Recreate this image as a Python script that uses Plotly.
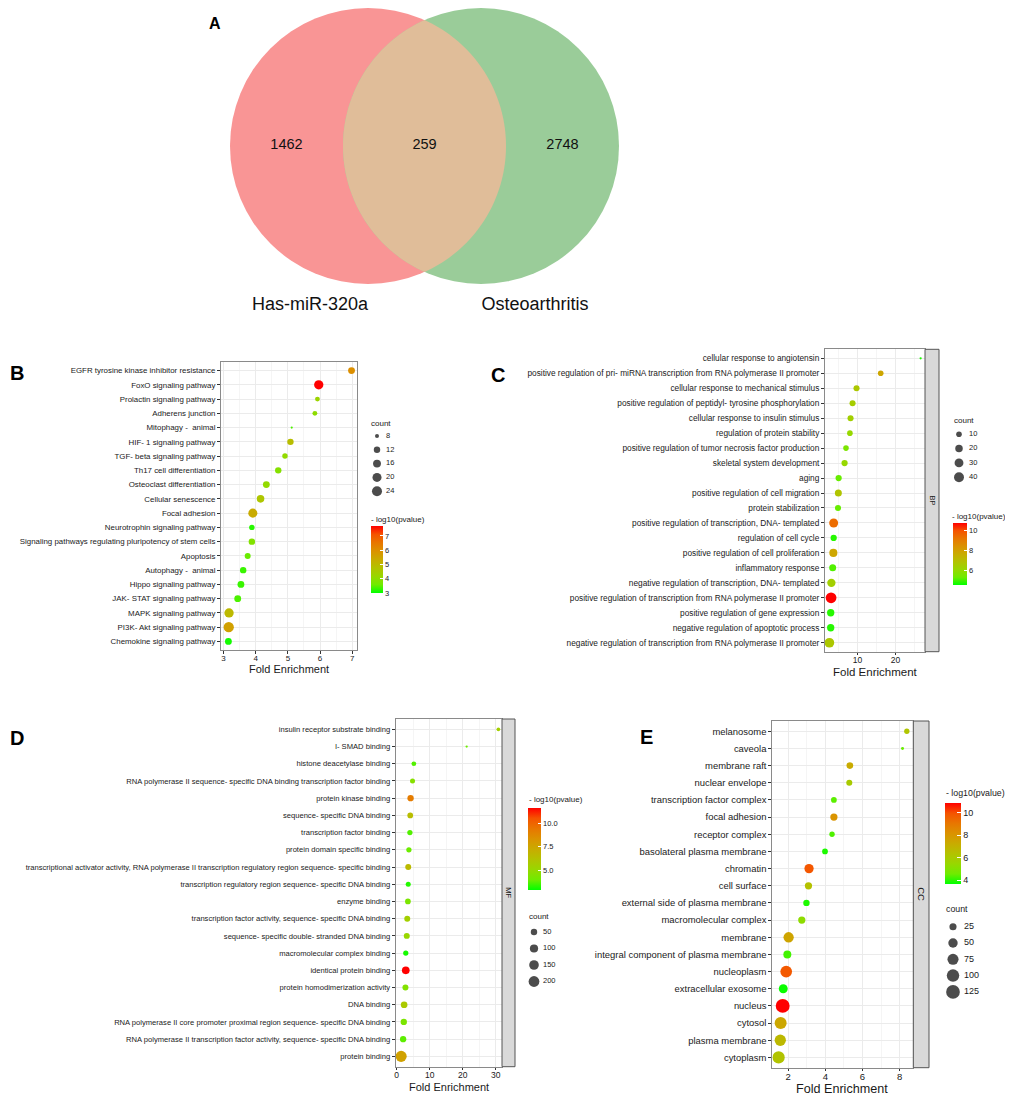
import numpy as np
import plotly.graph_objects as go

W, H = 1013, 1095          # browser window
OFF = 8                    # default body margin of the page
FW, FH = W - OFF, H - OFF  # figure size so that it ends at the window edge
FONT = "Liberation Sans, Arial, Helvetica, sans-serif"
TXT = "#1a1a1a"
GRID = "#EBEBEB"
GRID_MINOR = "#F5F5F5"
BORDER = "#8a8a8a"

# ---------------- data ----------------
venn_names = ["Has-miR-320a", "Osteoarthritis"]
venn_counts = [1462, 259, 2748]          # left only, shared, right only

kegg_terms = ["EGFR tyrosine kinase inhibitor resistance", "FoxO signaling pathway",
              "Prolactin signaling pathway", "Adherens junction", "Mitophagy -  animal",
              "HIF- 1 signaling pathway", "TGF- beta signaling pathway", "Th17 cell differentiation",
              "Osteoclast differentiation", "Cellular senescence", "Focal adhesion",
              "Neurotrophin signaling pathway", "Signaling pathways regulating pluripotency of stem cells",
              "Apoptosis", "Autophagy -  animal", "Hippo signaling pathway", "JAK- STAT signaling pathway",
              "MAPK signaling pathway", "PI3K- Akt signaling pathway", "Chemokine signaling pathway"]
kegg_fold = [6.98, 5.96, 5.92, 5.84, 5.12, 5.08, 4.91, 4.70, 4.33, 4.15,
             3.91, 3.88, 3.88, 3.75, 3.61, 3.54, 3.44, 3.17, 3.16, 3.15]
kegg_count = [13, 21, 9, 9, 7, 12, 10, 12, 13, 15, 20, 10, 12, 11, 12, 13, 13, 21, 25, 13]
kegg_logp = [6.0, 7.7, 4.27, 4.03, 3.4, 4.9, 4.1, 3.9, 4.1, 4.65,
             5.35, 3.2, 3.85, 3.55, 3.3, 3.3, 3.4, 5.0, 5.6, 3.1]

bp_terms = ["cellular response to angiotensin",
            "positive regulation of pri- miRNA transcription from RNA polymerase II promoter",
            "cellular response to mechanical stimulus",
            "positive regulation of peptidyl- tyrosine phosphorylation",
            "cellular response to insulin stimulus", "regulation of protein stability",
            "positive regulation of tumor necrosis factor production", "skeletal system development",
            "aging", "positive regulation of cell migration", "protein stabilization",
            "positive regulation of transcription, DNA- templated", "regulation of cell cycle",
            "positive regulation of cell proliferation", "inflammatory response",
            "negative regulation of transcription, DNA- templated",
            "positive regulation of transcription from RNA polymerase II promoter",
            "positive regulation of gene expression", "negative regulation of apoptotic process",
            "negative regulation of transcription from RNA polymerase II promoter"]
bp_fold = [26.6, 16.1, 9.74, 8.7, 8.17, 8.0, 6.97, 6.6, 5.04, 4.96,
           4.87, 3.73, 3.73, 3.65, 3.47, 3.13, 3.05, 2.95, 2.95, 2.61]
bp_count = [3, 10, 12, 12, 12, 10, 10, 13, 13, 17, 12, 31, 13, 24, 17, 26, 48, 19, 19, 37]
bp_logp = [4.8, 7.8, 6.7, 6.5, 6.4, 6.1, 5.6, 6.1, 5.3, 6.8,
           5.3, 9.4, 4.85, 7.8, 5.15, 6.4, 10.7, 4.85, 4.85, 6.7]

mf_terms = ["insulin receptor substrate binding", "I- SMAD binding", "histone deacetylase binding",
            "RNA polymerase II sequence- specific DNA binding transcription factor binding",
            "protein kinase binding", "sequence- specific DNA binding", "transcription factor binding",
            "protein domain specific binding",
            "transcriptional activator activity, RNA polymerase II transcription regulatory region sequence- specific binding",
            "transcription regulatory region sequence- specific DNA binding", "enzyme binding",
            "transcription factor activity, sequence- specific DNA binding",
            "sequence- specific double- stranded DNA binding", "macromolecular complex binding",
            "identical protein binding", "protein homodimerization activity", "DNA binding",
            "RNA polymerase II core promoter proximal region sequence- specific DNA binding",
            "RNA polymerase II transcription factor activity, sequence- specific DNA binding",
            "protein binding"]
mf_fold = [30.8, 21.2, 5.2, 4.8, 4.2, 4.1, 4.0, 3.7, 3.5, 3.5,
           3.4, 3.2, 3.05, 2.75, 2.75, 2.65, 2.25, 2.15, 1.95, 1.35]
mf_count = [8, 3, 19, 23, 47, 34, 27, 27, 40, 23, 34, 40, 40, 27, 83, 40, 56, 47, 47, 215]
mf_logp = [5.5, 3.95, 3.7, 4.6, 9.2, 6.4, 3.7, 3.95, 6.55, 3.25,
           4.3, 5.5, 5.1, 3.1, 11.6, 4.5, 5.8, 4.3, 3.8, 7.7]

cc_terms = ["melanosome", "caveola", "membrane raft", "nuclear envelope", "transcription factor complex",
            "focal adhesion", "receptor complex", "basolateral plasma membrane", "chromatin", "cell surface",
            "external side of plasma membrane", "macromolecular complex", "membrane",
            "integral component of plasma membrane", "nucleoplasm", "extracellular exosome", "nucleus",
            "cytosol", "plasma membrane", "cytoplasm"]
cc_fold = [8.39, 8.16, 5.32, 5.29, 4.46, 4.46, 4.36, 3.98, 3.12, 3.09,
           2.98, 2.73, 2.02, 1.95, 1.89, 1.73, 1.70, 1.59, 1.57, 1.48]
cc_count = [13, 7, 21, 17, 15, 26, 13, 15, 48, 26, 19, 26, 62, 33, 85, 44, 130, 91, 78, 96]
cc_logp = [6.25, 4.5, 7.25, 6.0, 4.4, 8.1, 4.3, 3.9, 9.85, 6.4,
           3.9, 5.25, 7.5, 4.2, 9.8, 3.75, 10.85, 7.4, 6.75, 6.3]

# ggplot-like green -> red gradient (Lab interpolation, sampled)
COLORSCALE = [[0.0, "#00FF00"], [0.125, "#70EB00"], [0.25, "#98D700"], [0.375, "#B3C200"],
              [0.5, "#C9AB00"], [0.625, "#DB9200"], [0.75, "#E87600"], [0.875, "#F55300"],
              [1.0, "#FF0000"]]


def dot_size(c, cmin, cmax, k):
    t = np.clip((np.asarray(c, float) - cmin) / (cmax - cmin), 0, 1)
    return k * (1.33 + 5 * np.sqrt(t))


def PX(x):   # window pixel -> paper x
    return (x - OFF) / FW


def PY(y):   # window pixel -> paper y
    return 1 - (y - OFF) / FH


panels = [
    dict(terms=kegg_terms, fold=kegg_fold, count=kegg_count, logp=kegg_logp,
         box=(221, 362, 357, 650), xr=(2.92, 7.15), dtick=1, minor=0.5, k=1.62,
         yfont=7.9, xfont=8, xstand=-2, title_font=11, title_xy=(289, 668.5), strip=None,
         crange=(3.0, 7.7), cticks=[3, 4, 5, 6, 7], ctext=None, cbar=(371, 526, 383, 593),
         cfont=7.5, ctfont=8, ctitle_xy=(369, 519), leg_vals=[8, 12, 16, 20, 24], leg_title_xy=(369, 423),
         leg_y0=436, leg_dy=13.8, leg_xdot=377, leg_xlab=386, leg_font=7.5, letter=("B", 17, 373)),
    dict(terms=bp_terms, fold=bp_fold, count=bp_count, logp=bp_logp,
         box=(825, 349.3, 925, 651.7), xr=(1.45, 27.75), dtick=10, minor=5, k=1.7,
         yfont=8.3, xfont=8.5, xstand=-2, title_font=11.5, title_xy=(875, 672), strip=("BP", 925, 939, 7.5),
         crange=(4.6, 10.7), cticks=[6, 8, 10], ctext=None, cbar=(953, 523, 967, 585),
         cfont=7.5, ctfont=8, ctitle_xy=(950, 516), leg_vals=[10, 20, 30, 40], leg_title_xy=(952, 420),
         leg_y0=434.3, leg_dy=14.3, leg_xdot=959, leg_xlab=969, leg_font=7.5, letter=("C", 498, 375)),
    dict(terms=mf_terms, fold=mf_fold, count=mf_count, logp=mf_logp,
         box=(395.7, 719, 502, 1066.7), xr=(-0.3, 31.9), dtick=10, minor=5, k=1.75,
         yfont=7.6, xfont=8.5, xstand=-2, title_font=11, title_xy=(449, 1087), strip=("MF", 502, 515, 7.5),
         crange=(2.9, 11.6), cticks=[5, 7.5, 10], ctext=["5.0", "7.5", "10.0"], cbar=(528, 808, 541, 890),
         cfont=7.5, ctfont=8, ctitle_xy=(527, 799), leg_vals=[50, 100, 150, 200], leg_title_xy=(527, 916),
         leg_y0=932, leg_dy=16.5, leg_xdot=534, leg_xlab=543, leg_font=7.5, letter=("D", 17, 738)),
    dict(terms=cc_terms, fold=cc_fold, count=cc_count, logp=cc_logp,
         box=(772.3, 721, 913.3, 1067.7), xr=(1.14, 8.74), dtick=2, minor=1, k=2.2,
         yfont=9.45, xfont=9.5, xstand=-3, title_font=12.6, title_xy=(842, 1088.5), strip=("CC", 913.3, 929, 9.5),
         crange=(3.67, 10.85), cticks=[4, 6, 8, 10], ctext=None, cbar=(945, 803, 961, 884),
         cfont=9, ctfont=8.8, ctitle_xy=(944, 793), leg_vals=[25, 50, 75, 100, 125], leg_title_xy=(944, 909),
         leg_y0=926.7, leg_dy=16.3, leg_xdot=953, leg_xlab=964, leg_font=9, letter=("E", 646, 737)),
]

fig = go.Figure()
layout = dict(width=FW, height=FH, margin=dict(l=0, r=0, t=0, b=0),
              paper_bgcolor="white", plot_bgcolor="rgba(0,0,0,0)", showlegend=False,
              hovermode=False, font=dict(family=FONT, color=TXT))
shapes, annotations = [], []
PAGE = dict(xref="x5", yref="y5")


def ann(text, x, y, size, bold=False, xanchor="center", yanchor="middle", angle=0):
    annotations.append(dict(text=f"<b>{text}</b>" if bold else text, x=x, y=y, showarrow=False,
                            xanchor=xanchor, yanchor=yanchor, textangle=angle,
                            font=dict(size=size, family=FONT, color="#000" if bold else TXT), **PAGE))


for i, p in enumerate(panels, start=1):
    sx = "" if i == 1 else str(i)
    xa, ya, ca = "x" + sx, "y" + sx, "coloraxis" + sx
    x0, y0, x1, y1 = p["box"]
    counts = np.asarray(p["count"], float)
    cmin, cmax = counts.min(), counts.max()
    n = len(p["terms"])
    fig.add_trace(go.Scatter(
        x=p["fold"], y=p["terms"], mode="markers", xaxis=xa, yaxis=ya, hoverinfo="skip",
        marker=dict(size=dot_size(counts, cmin, cmax, p["k"]), color=p["logp"], coloraxis=ca,
                    line=dict(width=0), opacity=1)))
    layout["xaxis" + sx] = dict(
        domain=[PX(x0), PX(x1)], anchor=ya, range=list(p["xr"]), tick0=0, dtick=p["dtick"],
        showgrid=True, gridcolor=GRID, gridwidth=0.9, zeroline=False,
        minor=dict(tick0=0, dtick=p["minor"], showgrid=True, gridcolor=GRID_MINOR, gridwidth=0.6),
        ticks="outside", ticklen=2.5, tickwidth=0.8, tickcolor="#333", ticklabelstandoff=p["xstand"],
        tickfont=dict(size=p["xfont"], color=TXT, family=FONT),
        showline=True, mirror=True, linecolor=BORDER, linewidth=1, fixedrange=True)
    layout["yaxis" + sx] = dict(
        domain=[PY(y1), PY(y0)], anchor=xa, type="category", categoryorder="array",
        categoryarray=p["terms"], range=[n - 1 + 0.6, -0.6], showgrid=True, gridcolor=GRID,
        gridwidth=0.9, ticks="outside", ticklen=3, tickwidth=0.8, tickcolor="#333",
        tickfont=dict(size=p["yfont"], color=TXT, family=FONT),
        showline=True, mirror=True, linecolor=BORDER, linewidth=1, zeroline=False, fixedrange=True)
    bx0, by0, bx1, by1 = p["cbar"]
    layout[ca] = dict(
        colorscale=COLORSCALE, cmin=p["crange"][0], cmax=p["crange"][1],
        colorbar=dict(x=PX(bx0), xanchor="left", y=PY(by0), yanchor="top",
                      len=by1 - by0, lenmode="pixels", thickness=bx1 - bx0, thicknessmode="pixels",
                      xpad=0, ypad=0, outlinewidth=0, tickvals=p["cticks"],
                      ticktext=p["ctext"] if p["ctext"] else [str(v) for v in p["cticks"]],
                      ticks="inside", ticklen=max(2, (bx1 - bx0) / 5), tickwidth=1, tickcolor="white",
                      tickfont=dict(size=p["cfont"], color=TXT, family=FONT)))
    ann("Fold Enrichment", p["title_xy"][0], p["title_xy"][1], p["title_font"])
    ann("- log10(pvalue)", p["ctitle_xy"][0], p["ctitle_xy"][1], p["ctfont"], xanchor="left")
    ann("count", p["leg_title_xy"][0], p["leg_title_xy"][1], p["ctfont"], xanchor="left")
    L, lx, ly = p["letter"]
    ann(L, lx, ly, 20, bold=True)
    if p["strip"]:
        lab, sx0, sx1, sf = p["strip"]
        shapes.append(dict(type="rect", x0=sx0, x1=sx1, y0=y0, y1=y1, fillcolor="#D9D9D9",
                           line=dict(color="#555", width=1), layer="above", **PAGE))
        ann(lab, (sx0 + sx1) / 2, (y0 + y1) / 2, sf, angle=90)
    lv = p["leg_vals"]
    ys = [p["leg_y0"] + j * p["leg_dy"] for j in range(len(lv))]
    fig.add_trace(go.Scatter(x=[p["leg_xdot"]] * len(lv), y=ys, mode="markers", xaxis="x5", yaxis="y5",
                             hoverinfo="skip",
                             marker=dict(size=dot_size(lv, cmin, cmax, p["k"]), color="black",
                                         line=dict(width=0))))
    fig.add_trace(go.Scatter(x=[p["leg_xlab"]] * len(lv), y=ys, mode="text", xaxis="x5", yaxis="y5",
                             text=[str(v) for v in lv], textposition="middle right", hoverinfo="skip",
                             textfont=dict(size=p["leg_font"], color=TXT, family=FONT)))

# ---------------- Venn (panel A) ----------------
cy, r = 146.0, 138.0
cl, cr = 368.0, 481.0
shapes.append(dict(type="circle", x0=cl - r, x1=cl + r, y0=cy - r, y1=cy + r,
                   fillcolor="#F99595", line=dict(width=0), layer="below", **PAGE))
shapes.append(dict(type="circle", x0=cr - r, x1=cr + r, y0=cy - r, y1=cy + r,
                   fillcolor="#9ACC99", line=dict(width=0), layer="below", **PAGE))
theta = np.arccos((cr - cl) / 2 / r)
t1 = np.linspace(-theta, theta, 80)
t2 = np.linspace(np.pi - theta, np.pi + theta, 80)
pts = [(cl + r * np.cos(t), cy + r * np.sin(t)) for t in t1] + \
      [(cr + r * np.cos(t), cy + r * np.sin(t)) for t in t2]
path = "M " + " L ".join(f"{x:.2f},{y:.2f}" for x, y in pts) + " Z"
shapes.append(dict(type="path", path=path, fillcolor="#E0BD99", line=dict(width=0), layer="below", **PAGE))

lens_l, lens_r = cr - r, cl + r
num_x = [((cl - r) + lens_l) / 2, (cl + cr) / 2, (lens_r + (cr + r)) / 2]
fig.add_trace(go.Scatter(x=num_x, y=[cy - 1] * 3, mode="text", text=[str(v) for v in venn_counts],
                         xaxis="x5", yaxis="y5", hoverinfo="skip",
                         textfont=dict(size=14.5, color="#111", family=FONT)))
fig.add_trace(go.Scatter(x=[310, 535], y=[305, 305], mode="text", text=venn_names,
                         xaxis="x5", yaxis="y5", hoverinfo="skip",
                         textfont=dict(size=18, color="#111", family=FONT)))
ann("A", 215, 23, 16, bold=True)

layout["xaxis5"] = dict(domain=[0, 1], range=[OFF, W], visible=False, fixedrange=True, anchor="y5")
layout["yaxis5"] = dict(domain=[0, 1], range=[H, OFF], visible=False, fixedrange=True, anchor="x5")
layout["shapes"] = shapes
layout["annotations"] = annotations
fig.update_layout(**layout)
fig.write_html("out.html")
